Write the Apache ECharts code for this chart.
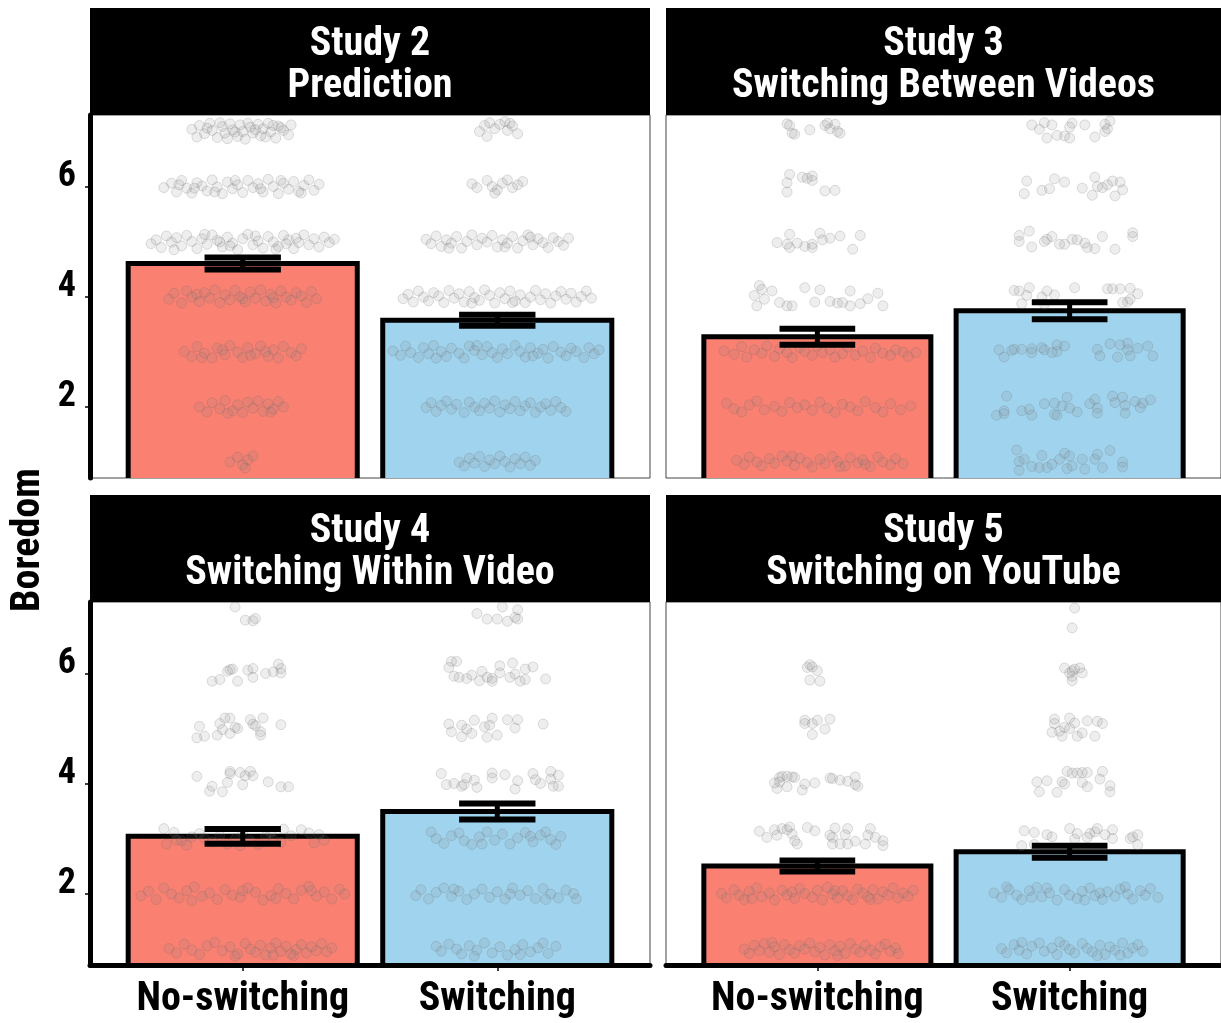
<!DOCTYPE html>
<html><head><meta charset="utf-8">
<script src="https://cdn.jsdelivr.net/npm/echarts@6/dist/echarts.min.js"></script>
<style>html,body{margin:0;padding:0;background:#fff}#c{width:1221px;height:1023px}</style>
</head><body><div id="c"></div>
<script>
const conditions = ['No-switching', 'Switching'];
const panelTitles = ['Study 2\nPrediction', 'Study 3\nSwitching Between Videos', 'Study 4\nSwitching Within Video', 'Study 5\nSwitching on YouTube'];
const yTickValues = [2, 4, 6];
const yLabel = 'Boredom';
const meanNoSwitch = [4.60, 3.27, 3.04, 2.50];
const meanSwitch = [3.57, 3.74, 3.49, 2.76];
const seNoSwitch = [0.11, 0.145, 0.135, 0.10];
const seSwitch = [0.10, 0.155, 0.145, 0.11];

// individual responses: flat pairs [horizontal jitter x100 (category units), boredom x100]
const pts_s2_noswitch = [
-20,704,-17,711,-15,696,-13,715,-12,702,-10,689,-8,709,-7,697,-5,714,-4,703,-2,691,-1,712,0,700,1,686,3,708,4,697,6,713,7,692,8,705,10,715,11,699,13,688,14,710,16,702,18,694,19,712,-18,690,-9,716,-3,699,2,715,9,690,15,707,-14,706,-6,687,5,703,12,711,
-31,598,-28,606,-26,590,-24,611,-22,597,-20,588,-18,607,-16,601,-14,592,-12,612,-10,599,-8,587,-6,608,-4,596,-2,603,0,589,2,611,4,598,6,605,8,590,10,613,12,600,14,587,16,606,18,595,20,609,22,591,24,602,26,612,28,593,30,604,-25,603,-11,590,-3,611,7,596,15,611,23,588,-19,597,
-36,496,-34,503,-32,489,-30,510,-28,499,-26,507,-24,492,-22,511,-20,500,-18,487,-16,505,-14,495,-12,512,-10,502,-8,490,-6,508,-4,497,-2,485,0,505,2,513,4,494,6,501,8,488,10,509,12,499,14,491,16,511,18,503,20,487,22,498,24,512,26,494,28,505,30,490,32,508,34,498,36,504,-27,485,-15,513,-5,492,5,510,13,486,21,506,-9,499,17,496,
-29,395,-27,406,-24,388,-22,410,-20,399,-17,391,-15,407,-13,397,-11,412,-9,389,-7,403,-5,394,-3,411,-1,400,1,390,3,408,5,397,7,412,9,392,11,404,13,388,15,410,17,399,19,393,21,407,23,401,25,389,27,409,29,396,-18,404,0,396,12,398,
-23,300,-20,291,-18,309,-15,297,-12,288,-10,306,-7,294,-5,311,-2,299,0,289,2,307,5,296,7,310,10,291,12,303,14,288,16,309,19,298,21,292,23,305,-8,303,3,293,-16,289,9,300,
-17,199,-14,190,-12,207,-9,196,-7,211,-4,192,-2,203,0,189,2,208,4,197,6,210,8,191,10,205,12,195,14,209,16,199,-6,188,11,190,
-5,99,-2,108,0,94,2,103,4,110,1,88
];
const pts_s2_switch = [
-7,700,-5,711,-3,716,-1,705,1,713,3,718,4,702,6,710,8,696,-4,691,5,715,
-10,605,-8,598,-4,611,-2,600,0,594,2,606,4,612,6,598,8,603,10,609,-1,588,
-28,504,-26,496,-24,510,-22,491,-20,503,-18,497,-16,509,-14,488,-12,500,-10,512,-8,494,-6,506,-4,499,-2,511,0,490,2,503,4,497,6,509,8,488,10,501,12,512,14,494,16,505,18,498,20,489,22,507,24,500,26,493,28,506,-19,488,3,490,13,508,
-37,396,-35,404,-33,390,-31,410,-29,399,-27,392,-25,407,-23,401,-21,389,-19,411,-17,397,-15,405,-13,390,-11,409,-9,398,-7,393,-5,412,-3,402,-1,388,1,407,3,396,5,410,7,392,9,403,11,389,13,399,15,411,17,394,19,405,21,388,23,401,25,409,27,395,29,406,31,390,33,400,35,410,37,397,-10,388,6,389,
-41,301,-38,293,-36,310,-34,298,-31,289,-29,307,-27,296,-25,311,-22,300,-20,291,-18,306,-15,297,-13,288,-11,310,-9,302,-6,294,-4,309,-2,298,0,289,2,305,4,296,7,311,9,300,11,290,13,307,16,297,18,304,20,288,22,309,25,299,27,292,29,306,31,300,34,289,36,307,38,296,40,303,-24,288,-8,311,14,292,
-28,198,-26,207,-24,191,-22,202,-20,210,-18,195,-16,204,-13,189,-11,208,-9,199,-7,192,-5,206,-3,197,-1,210,1,190,3,203,5,196,7,209,9,192,11,201,13,207,15,189,17,199,19,205,21,193,23,209,25,198,27,191,
-15,99,-13,92,-11,106,-9,97,-7,109,-5,91,-3,103,-1,96,1,110,3,100,5,90,7,105,9,96,11,108,13,93,15,102
];
const pts_s3_noswitch = [
-12,714,-11,711,-10,697,-9,695,-3,703,3,711,4,715,5,705,7,713,8,700,9,697,
-11,622,-12,607,-12,590,-6,617,-4,615,-2,611,-2,619,3,592,7,593,
-16,498,-12,495,-11,513,-11,489,-8,497,-5,491,-2,489,-2,495,1,515,2,503,5,506,9,510,14,486,17,511,
-23,420,-22,413,-25,402,-24,383,-21,395,-18,410,-15,389,-12,383,-10,383,-5,416,-1,390,1,412,5,391,8,388,10,389,13,410,13,383,17,387,20,396,24,406,26,383,
-37,301,-33,295,-30,309,-28,290,-25,303,-22,297,-20,310,-17,291,-15,305,-12,298,-10,289,-7,307,-5,300,-2,293,0,310,2,298,5,303,7,290,10,296,12,308,15,293,18,301,21,289,23,306,26,297,29,293,31,303,34,299,36,291,39,298,
-36,206,-33,196,-30,190,-27,203,-24,210,-21,194,-17,200,-14,191,-11,207,-8,198,-5,203,-2,193,1,208,4,197,7,189,10,204,13,199,16,192,19,209,23,198,26,190,29,205,33,194,37,201,
-32,102,-29,95,-27,108,-24,99,-22,92,-19,105,-17,97,-14,110,-12,101,-9,93,-7,106,-4,98,-2,90,1,104,3,96,6,109,8,100,11,92,13,107,16,97,18,103,21,91,24,108,26,99,29,94,31,105,34,96,-10,110,9,90,19,95
];
const pts_s3_switch = [
-15,712,-12,704,-10,716,-9,688,-7,712,-5,693,-2,692,0,688,0,708,1,715,6,712,10,690,14,713,15,705,16,719,14,700,
-17,610,-18,587,-11,593,-8,596,-6,614,-2,608,5,597,10,617,11,600,13,598,15,603,17,610,20,608,21,594,18,583,9,584,
-20,511,-20,500,-16,519,-15,490,-10,500,-9,504,-7,509,-4,495,-2,495,1,504,3,503,6,497,7,489,10,487,13,509,18,486,25,516,25,509,
-22,411,-20,410,-17,402,-16,416,-19,387,-11,399,-10,386,-9,410,-6,403,2,416,15,414,17,414,20,414,24,415,27,405,24,395,21,389,23,390,
-28,303,-26,290,-23,302,-22,304,-19,304,-15,305,-11,307,-10,303,-7,298,-5,312,-5,300,-2,310,11,304,12,292,16,314,19,290,20,312,23,303,23,315,24,292,27,306,31,310,33,292,-15,298,
-25,219,-26,192,-29,184,-26,187,-19,192,-16,195,-15,184,-10,205,-6,186,-5,184,-3,201,-1,217,0,197,3,190,8,205,10,213,11,197,11,188,17,219,18,207,21,217,22,202,22,188,26,209,28,198,32,212,29,206,-6,206,
-21,121,-20,100,-20,84,-18,104,-15,91,-12,89,-11,111,-9,89,-7,95,-4,104,-2,115,-1,87,0,110,1,92,5,104,6,86,10,104,11,113,13,89,16,120,21,99,21,90
];
const pts_s4_noswitch = [
-3,721,1,697,4,696,5,700,
-12,586,-9,589,-6,604,-5,607,-4,608,-2,586,2,606,4,609,4,593,9,600,12,603,14,617,15,609,15,601,
-17,504,-18,483,-15,486,-10,488,-9,509,-7,519,-8,498,-5,519,-5,491,-3,502,-2,500,3,516,4,508,5,505,7,494,7,488,8,519,15,507,
-18,413,-13,386,-12,395,-8,385,-6,402,-5,422,-5,418,-1,420,0,398,1,414,3,422,4,414,10,403,15,394,18,394,
-31,318,-27,311,-24,296,-20,303,-15,300,-30,290,-22,288,-17,309,-12,294,-9,305,-6,290,-3,300,0,312,3,296,6,289,9,304,12,298,15,293,16,317,19,305,23,316,26,310,28,292,30,307,32,297,-26,297,11,311,-1,287,
-40,196,-37,204,-34,189,-31,210,-28,199,-25,192,-22,205,-19,212,-16,195,-13,201,-10,189,-7,207,-4,197,-1,193,2,210,5,202,8,188,11,196,14,209,17,200,20,190,23,206,26,213,29,195,32,203,35,190,38,208,40,199,-20,187,0,205,13,191,27,205,
-29,100,-26,92,-23,108,-20,97,-17,89,-14,105,-11,111,-8,96,-5,103,-2,90,1,109,3,99,5,93,7,106,9,88,11,101,13,110,15,95,17,104,19,90,21,98,23,107,25,92,27,103,29,96,31,109,33,94,35,101,-3,86,12,88,20,87
];
const pts_s4_switch = [
-8,709,-4,699,0,699,2,721,4,695,7,702,8,699,8,716,
-18,622,-19,611,-16,622,-17,595,-15,593,-12,591,-10,597,-7,587,-6,604,-4,593,-2,591,-2,586,1,601,1,614,5,593,6,619,7,599,9,586,11,589,11,608,14,612,19,590,
-19,508,-18,494,-14,506,-14,485,-12,499,-10,491,-9,515,-5,503,-4,484,-3,506,-2,519,0,488,4,516,7,501,8,516,18,508,
-22,418,-20,398,-17,400,-14,395,-12,410,-13,398,-9,406,-8,393,-2,419,-2,410,3,416,7,390,8,405,14,418,15,407,17,400,21,422,21,408,22,395,24,415,24,395,
-26,312,-24,300,-21,291,-18,305,-15,310,-13,296,-10,289,-7,303,-4,312,-1,297,2,308,5,290,8,301,11,311,14,294,17,306,19,312,21,298,23,289,25,304,-6,290,13,304,
-32,196,-30,207,-27,190,-24,202,-21,210,-18,195,-15,204,-12,189,-9,199,-6,208,-3,193,0,203,3,190,6,210,9,197,12,205,15,191,18,209,21,199,24,192,27,206,30,200,31,190,-17,208,5,199,19,189,
-24,104,-22,95,-19,108,-16,99,-14,90,-11,105,-8,97,-5,110,-2,92,1,103,4,88,7,98,10,107,13,94,16,101,18,110,20,91,23,104,-9,86,9,89
];
const pts_s5_noswitch = [
-4,611,-3,616,-2,612,0,605,-3,588,1,586,
-5,515,-5,509,-2,509,0,515,5,517,3,499,-2,489,
-17,401,-15,411,-14,413,-12,413,-10,412,-9,411,-16,391,-15,403,-12,394,-6,388,-5,399,-1,401,5,410,6,409,9,406,12,404,15,412,16,395,15,398,
-23,313,-20,302,-17,316,-16,306,-14,318,-12,316,-11,321,-10,308,-9,296,-8,290,-4,320,-1,314,5,306,6,290,6,302,7,319,9,290,11,307,12,318,12,290,15,295,19,290,20,306,21,318,23,302,26,296,26,287,
-38,200,-36,192,-33,207,-31,197,-29,189,-27,204,-24,210,-22,194,-19,201,-17,188,-14,206,-12,197,-9,191,-7,209,-5,200,-2,193,0,206,2,188,4,211,6,199,8,192,10,205,12,196,14,189,16,208,18,201,20,194,22,207,24,190,26,203,28,197,30,210,32,192,34,201,36,195,38,206,-26,191,-10,203,7,205,21,189,
-29,99,-27,91,-25,106,-23,96,-21,109,-19,93,-17,103,-15,89,-13,107,-11,98,-9,92,-7,105,-5,99,-3,110,-1,94,1,102,3,88,5,107,7,96,9,104,11,91,13,109,15,99,17,93,19,106,21,97,23,90,25,103,27,108,29,95,31,101,32,91,-18,111,8,87
];
const pts_s5_switch = [
2,719,1,683,
-2,610,0,601,1,605,2,608,4,610,5,601,1,595,1,587,
-7,493,-6,517,-6,509,-4,495,-3,486,-2,502,0,519,0,500,2,510,3,486,5,492,7,514,10,486,11,513,13,509,
-13,403,-12,385,-9,405,-5,384,-3,403,-2,399,-1,422,1,419,3,419,5,420,7,420,5,402,7,394,13,422,12,408,16,396,16,385,
-18,314,-14,311,-9,307,-7,303,0,318,3,309,8,309,10,312,11,318,14,307,17,316,17,300,24,300,25,303,27,307,27,288,-19,287,-14,289,2,299,7,302,
-30,201,-27,193,-24,207,-21,197,-19,189,-16,205,-13,211,-11,194,-8,201,-5,188,-2,207,0,197,3,191,5,204,8,210,10,196,13,189,15,203,18,195,20,208,23,199,25,190,28,205,30,197,32,209,35,193,-25,212,-9,210,6,188,22,212,-15,193,12,201,
-27,100,-25,92,-22,107,-20,97,-17,90,-15,104,-12,110,-10,95,-7,101,-5,89,-2,106,0,98,2,92,5,109,7,100,9,94,12,106,14,89,16,103,18,97,21,110,23,92,25,101,27,107,29,95,-19,111,-4,112,11,87,20,88
];
const pointsNoSwitch = [pts_s2_noswitch, pts_s3_noswitch, pts_s4_noswitch, pts_s5_noswitch];
const pointsSwitch = [pts_s2_switch, pts_s3_switch, pts_s4_switch, pts_s5_switch];

const FONT = '"Roboto Condensed", "Liberation Sans Narrow", "DejaVu Sans Condensed", Roboto, sans-serif';
const barColors = ['#FA8072', '#A0D4EE'];
const Y_MIN = 0.7, Y_MAX = 7.3;
const grids = [
  {left: 90, top: 115, width: 560, height: 363},
  {left: 666, top: 115, width: 555, height: 363},
  {left: 90, top: 602, width: 560, height: 363},
  {left: 666, top: 602, width: 555, height: 363}
];

function toPts(flat, cx) {
  const out = [];
  for (let i = 0; i < flat.length; i += 2) out.push([cx + flat[i] / 100, flat[i + 1] / 100]);
  return out;
}

function renderBar(params, api) {
  const x = api.value(0), m = api.value(1), ci = api.value(2);
  const tl = api.coord([x - 0.45, m]);
  const br = api.coord([x + 0.45, Y_MIN]);
  const bottom = br[1] + 8;
  return {type: 'group', children: [
    {type: 'rect', shape: {x: tl[0], y: tl[1], width: br[0] - tl[0], height: bottom - tl[1]}, style: {fill: barColors[ci]}},
    {type: 'polyline', shape: {points: [[tl[0], bottom], [tl[0], tl[1]], [br[0], tl[1]], [br[0], bottom]]},
     style: {stroke: '#000', lineWidth: 5, fill: null, lineJoin: 'miter'}}
  ]};
}
function renderErr(params, api) {
  const x = api.value(0), m = api.value(1), se = api.value(2);
  const hi = api.coord([x, m + se]), lo = api.coord([x, m - se]);
  const l = api.coord([x - 0.15, m])[0], r = api.coord([x + 0.15, m])[0];
  const st = {stroke: '#000', lineWidth: 6};
  return {type: 'group', children: [
    {type: 'line', shape: {x1: hi[0], y1: hi[1], x2: lo[0], y2: lo[1]}, style: {stroke: '#000', lineWidth: 5}},
    {type: 'line', shape: {x1: l, y1: hi[1], x2: r, y2: hi[1]}, style: st},
    {type: 'line', shape: {x1: l, y1: lo[1], x2: r, y2: lo[1]}, style: st}
  ]};
}

const xAxes = [], yAxes = [], series = [], graphics = [];
for (let i = 0; i < 4; i++) {
  const bottomRow = i >= 2, leftCol = i % 2 === 0;
  xAxes.push({
    gridIndex: i, type: 'value', min: 0.4, max: 2.6, z: 10,
    splitLine: {show: false},
    axisLine: {show: bottomRow, onZero: false, lineStyle: {color: '#000', width: 5}},
    axisTick: {show: bottomRow, customValues: [1, 2], length: 6, lineStyle: {color: '#000', width: 1.5}},
    axisLabel: {show: bottomRow, customValues: [1, 2], formatter: v => conditions[Math.round(v) - 1],
      fontFamily: FONT, fontWeight: 'bold', fontSize: 40, color: '#000', margin: 15}
  });
  yAxes.push({
    gridIndex: i, type: 'value', min: Y_MIN, max: Y_MAX, z: 10,
    splitLine: {show: false},
    axisLine: {show: leftCol, onZero: false, lineStyle: {color: '#000', width: 5}},
    axisTick: {show: leftCol, customValues: yTickValues, length: 5, lineStyle: {color: '#000', width: 1.5}},
    axisLabel: {show: leftCol, customValues: yTickValues, fontFamily: FONT, fontWeight: 'bold', fontSize: 36,
      color: '#000', margin: 14, verticalAlign: 'bottom', lineHeight: 20}
  });
  series.push({
    type: 'custom', xAxisIndex: i, yAxisIndex: i, clip: true, z: 2, renderItem: renderBar,
    data: [[1, meanNoSwitch[i], 0], [2, meanSwitch[i], 1]]
  });
  series.push({
    type: 'scatter', xAxisIndex: i, yAxisIndex: i, z: 3, symbolSize: 10, silent: true,
    itemStyle: {color: 'rgba(128,128,128,0.17)', borderColor: 'rgba(100,100,100,0.26)', borderWidth: 1},
    data: toPts(pointsNoSwitch[i], 1).concat(toPts(pointsSwitch[i], 2))
  });
  series.push({
    type: 'custom', xAxisIndex: i, yAxisIndex: i, z: 4, renderItem: renderErr,
    data: [[1, meanNoSwitch[i], seNoSwitch[i]], [2, meanSwitch[i], seSwitch[i]]]
  });
  const g = grids[i];
  graphics.push({type: 'rect', left: g.left, top: g.top - 107, shape: {width: g.width, height: 107}, style: {fill: '#000'}, z: 100});
  graphics.push({type: 'text', x: g.left + g.width / 2, y: g.top - 49, z: 101,
    style: {text: panelTitles[i], fill: '#fff', fontFamily: FONT, fontWeight: 'bold', fontSize: 40,
      lineHeight: 42, align: 'center', verticalAlign: 'middle'}});
}
graphics.push({type: 'text', x: 29, y: 540, rotation: Math.PI / 2, z: 101,
  style: {text: yLabel, fill: '#000', fontFamily: FONT, fontWeight: 'bold', fontSize: 40, align: 'center', verticalAlign: 'middle'}});

const chart = echarts.init(document.getElementById('c'), null, {renderer: 'canvas'});
chart.setOption({
  animation: false,
  backgroundColor: '#fff',
  grid: grids.map(g => Object.assign({show: true, borderColor: '#444', borderWidth: 1, backgroundColor: '#fff'}, g)),
  xAxis: xAxes, yAxis: yAxes, series: series, graphic: graphics
});
</script></body></html>
